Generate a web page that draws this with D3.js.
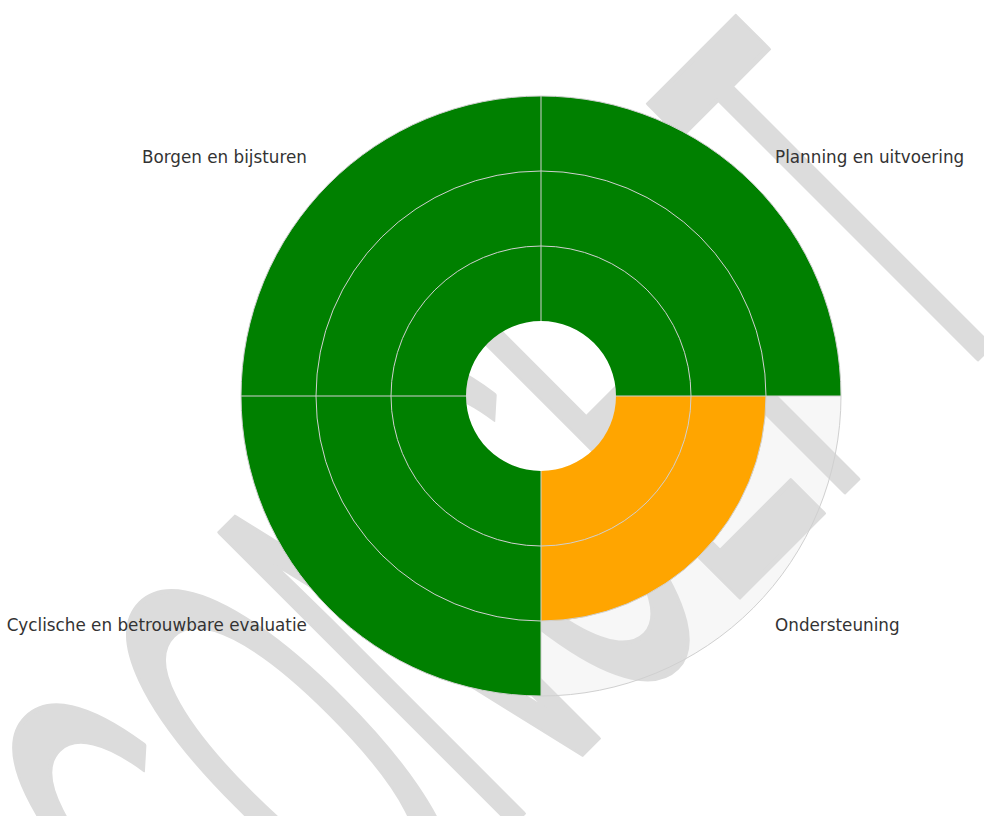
<!DOCTYPE html>
<html>
<head>
<meta charset="utf-8">
<style>
       body {
              margin: 0;
              background: #fff;
       }
       svg {
              display: block;
       }
       .label {
              font-family: "DejaVu Sans";
              font-size: 16.8px;
              fill: #333;
       }
       .watermark {
              font-family: "Liberation Sans";
              fill: #dcdcdc;
              stroke: #dcdcdc;
              stroke-width: 5;
              stroke-linejoin: round;
       }
       .grid {
              fill: none;
              stroke: #d0d0d0;
              stroke-width: 1;
       }
</style>
</head>
<body>
<script src="https://cdn.jsdelivr.net/npm/d3@7"></script>
<script>

     var categories = ["Planning en uitvoering", "Ondersteuning",
"Cyclische en betrouwbare evaluatie", "Borgen en bijsturen"],
        scores = [3, 2, 3, 3],
        levels = [1, 2, 3],
        scoreNames = [1, 2, 3],
        scoreColors = ["#e00000", "#ffa500", "#008000"];

     var width = 984,
            height = 816,
            cx = 541,
            cy = 396,
            holeRadius = 75,
            outerRadius = 300,
            labelRadius = 331;

     var r = d3.scaleLinear()
            .domain([0, d3.max(levels)])
            .range([holeRadius, outerRadius]);

     var angle = d3.scaleBand()
            .domain(categories)
            .range([0, 2 * Math.PI])
            .paddingInner(0)
            .paddingOuter(0);

     var color = d3.scaleOrdinal()
            .domain(scoreNames)
            .range(scoreColors);

     var arc = d3.arc();

     var svg = d3.select("body").append("svg")
            .attr("width", width)
            .attr("height", height);

     var center = "translate(" + cx + "," + cy + ")";

     // background ring
     svg.append("g")
            .attr("transform", center)
        .append("path")
            .attr("d", arc({innerRadius: r(0), outerRadius: r(d3.max(levels)),
                   startAngle: 0, endAngle: 2 * Math.PI}))
            .attr("fill", "#f7f7f7");

     // watermark sits on the background, under the data
     svg.append("text")
            .attr("class", "watermark")
            .attr("transform", "rotate(-45)")
            .attr("x", -575)
            .attr("y", 945)
            .attr("font-size", 600)
            .attr("textLength", 1090)
            .attr("lengthAdjust", "spacingAndGlyphs")
            .text("CONCEPT");

     var chart = svg.append("g")
            .attr("transform", center);

     var data = categories.map(function(c, i) { return {name: c, score: scores[i]}; });

     chart.selectAll("path.segment")
            .data(data)
       .enter().append("path")
            .attr("class", "segment")
            .attr("fill", function(d) { return color(d.score); })
            .attr("d", function(d) {
                   return arc({innerRadius: r(0), outerRadius: r(d.score),
                          startAngle: angle(d.name),
                          endAngle: angle(d.name) + angle.bandwidth()});
            });

     // rings
     chart.selectAll("circle.grid")
            .data(levels)
       .enter().append("circle")
            .attr("class", "grid")
            .attr("r", function(d) { return r(d); });

     // spokes
     chart.selectAll("line.grid")
            .data(categories)
       .enter().append("line")
            .attr("class", "grid")
            .attr("x1", function(d) { return r(0) * Math.sin(angle(d)); })
            .attr("y1", function(d) { return -r(0) * Math.cos(angle(d)); })
            .attr("x2", function(d) { return r(d3.max(levels)) * Math.sin(angle(d)); })
            .attr("y2", function(d) { return -r(d3.max(levels)) * Math.cos(angle(d)); });

     chart.selectAll("text.label")
            .data(categories)
       .enter().append("text")
            .attr("class", "label")
            .each(function(d) {
                   var a = angle(d) + angle.bandwidth() / 2,
                          s = Math.sin(a);
                   d3.select(this)
                          .attr("x", labelRadius * s)
                          .attr("y", -labelRadius * Math.cos(a) + 1)
                          .attr("text-anchor", s > 0 ? "start" : "end");
            })
            .text(function(d) { return d; });

</script>
</body>
</html>
